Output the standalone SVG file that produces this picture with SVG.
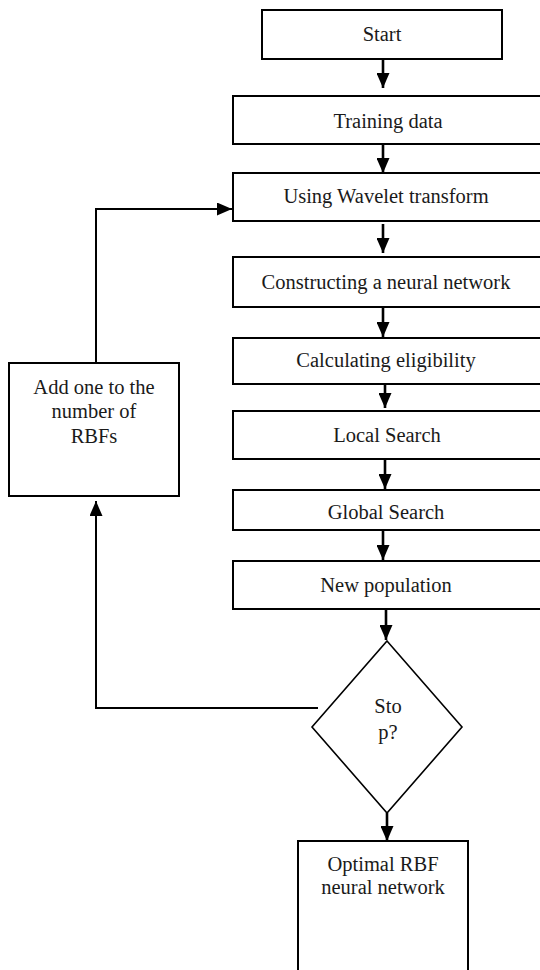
<svg xmlns="http://www.w3.org/2000/svg" width="540" height="970" viewBox="0 0 540 970">
<style>
.box{fill:#fff;stroke:#000;stroke-width:2}
.dia{fill:#fff;stroke:#000;stroke-width:1.6}
.t{font-family:"Liberation Serif","Times New Roman",serif;font-size:20.5px;fill:#1a1a1a;text-anchor:middle}
.c{fill:none;stroke:#000;stroke-width:2.6}
.f{fill:none;stroke:#000;stroke-width:2}
</style>
<defs>
<marker id="ah" markerUnits="userSpaceOnUse" viewBox="0 0 15 13" markerWidth="15" markerHeight="13" refX="15" refY="6.5" orient="auto">
<path d="M0,0 L15,6.5 L0,13 z" fill="#000"/>
</marker>
</defs>
<rect width="540" height="970" fill="#fff"/>
<g id="connectors">
<line class="c" x1="383" y1="59" x2="383" y2="88" marker-end="url(#ah)"/>
<line class="c" x1="383" y1="144" x2="383" y2="173" marker-end="url(#ah)"/>
<line class="c" x1="383" y1="224" x2="383" y2="253" marker-end="url(#ah)"/>
<line class="c" x1="383" y1="307" x2="383" y2="337" marker-end="url(#ah)"/>
<line class="c" x1="385" y1="384" x2="385" y2="408" marker-end="url(#ah)"/>
<line class="c" x1="385" y1="459" x2="385" y2="489" marker-end="url(#ah)"/>
<line class="c" x1="383" y1="531" x2="383" y2="560" marker-end="url(#ah)"/>
<line class="c" x1="386" y1="609" x2="386" y2="640" marker-end="url(#ah)"/>
<line class="c" x1="387" y1="813" x2="387" y2="841" marker-end="url(#ah)"/>
<polyline class="f" points="318,708 96,708 96,501" marker-end="url(#ah)"/>
<polyline class="f" points="96,363 96,209 232,209" marker-end="url(#ah)"/>
</g>
<g id="start"><rect class="box" x="262" y="10" width="240" height="49"/><text class="t" x="382" y="41">Start</text></g>
<g id="training"><rect class="box" x="233" y="96" width="312" height="48"/><text class="t" x="388" y="128">Training data</text></g>
<g id="wavelet"><rect class="box" x="233" y="173" width="312" height="48"/><text class="t" x="386" y="203">Using Wavelet transform</text></g>
<g id="construct"><rect class="box" x="233" y="257" width="312" height="50"/><text class="t" x="386" y="289">Constructing a neural network</text></g>
<g id="eligibility"><rect class="box" x="233" y="338" width="312" height="46"/><text class="t" x="386" y="367">Calculating eligibility</text></g>
<g id="local"><rect class="box" x="233" y="411" width="312" height="48"/><text class="t" x="387" y="442">Local Search</text></g>
<g id="global"><rect class="box" x="233" y="490" width="312" height="40"/><text class="t" x="386" y="519">Global Search</text></g>
<g id="newpop"><rect class="box" x="233" y="561" width="312" height="48"/><text class="t" x="386" y="592">New population</text></g>
<g id="stop"><polygon class="dia" points="387,641 462,727 387,813 312,727"/><text class="t" x="388" y="713">Sto</text><text class="t" x="388" y="739">p?</text></g>
<g id="addone"><rect class="box" x="9" y="363" width="170" height="133"/><text class="t" x="94" y="394">Add one to the</text><text class="t" x="94" y="418">number of</text><text class="t" x="94" y="443">RBFs</text></g>
<g id="optimal"><rect class="box" x="298" y="841" width="170" height="140"/><text class="t" x="383" y="871">Optimal RBF</text><text class="t" x="383" y="894">neural network</text></g>
</svg>
